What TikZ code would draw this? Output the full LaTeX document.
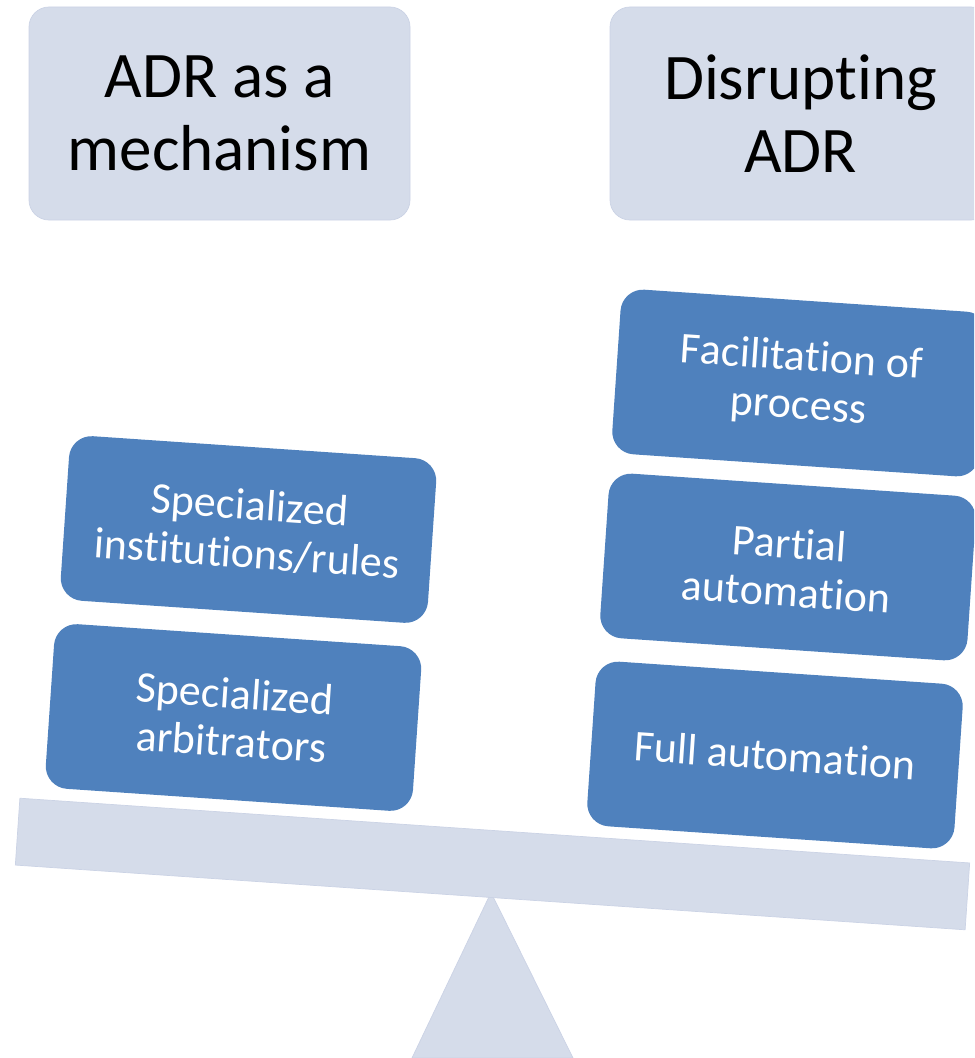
\documentclass[tikz,border=0pt]{standalone}
\usepackage{fontspec}
\setmainfont{Carlito}[Ligatures={NoCommon}, Kerning=Off]
\usepackage{xcolor}
\definecolor{pale}{RGB}{213,220,234}
\definecolor{paleline}{RGB}{203,211,229}
\definecolor{brick}{RGB}{79,129,189}
\tikzset{
	title/.style={draw=paleline, fill=pale, rounded corners=0.4cm, minimum width=7.62cm, minimum height=4.26cm, align=center, font=\fontsize{37}{41.5}\selectfont},
	weight/.style={fill=brick, text=white, rounded corners=0.45cm, minimum width=7.36cm, minimum height=3.3cm, align=center, rotate=-3.9, font=\fontsize{25}{27.5}\selectfont},
	plank/.style={draw=paleline, fill=pale, minimum width=19.04cm, minimum height=1.34cm, rotate=-3.9}
}

\begin{document}
\begin{tikzpicture}
		\clip (0,0) rectangle (19.48,-21.16);
		
		\node[title] (mech) at (4.39,-2.27) {ADR as a\\mechanism};
		\node[title] (disr) at (16.01,-2.27) {Disrupting\\ADR};
		
		% fulcrum and beam
		\draw[draw=paleline, fill=pale] (9.82,-17.85) -- (8.24,-21.16) -- (11.46,-21.16) -- cycle;
		\node[plank] (beam) at (9.85,-17.28) {};
		
		\node[weight] (inst) at (4.97,-10.59) {Specialized\\institutions/rules};
		\node[weight] (arb) at (4.67,-14.35) {Specialized\\arbitrators};
		
		\node[weight] (facil) at (16.0,-7.66) {Facilitation of\\process};
		\node[weight] (partial) at (15.76,-11.34) {Partial\\automation};
		\node[weight] (full) at (15.5,-15.1) {Full automation};
	\end{tikzpicture}
\end{document}
